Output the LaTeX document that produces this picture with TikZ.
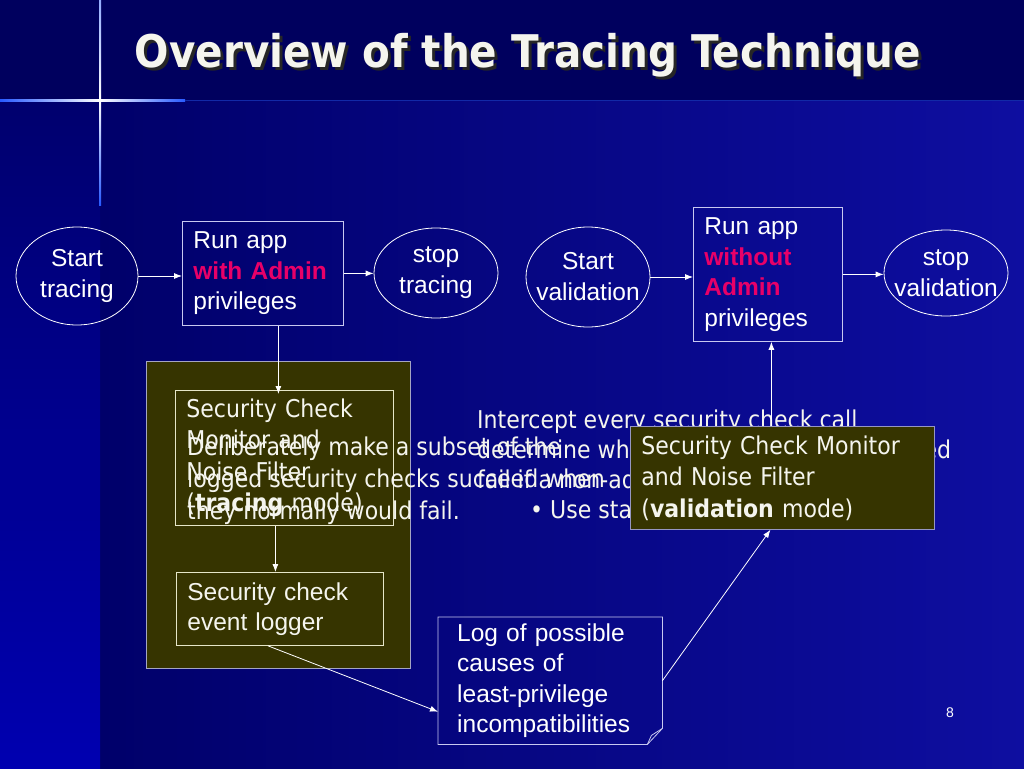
\documentclass[tikz,border=0pt]{standalone}
\usepackage{fontspec}
\setmainfont{Liberation Sans}
\newfontfamily\tahoma{DejaVu Sans Condensed}
\usetikzlibrary{arrows.meta}
\usetikzlibrary{shapes.geometric}

\definecolor{titleband}{RGB}{0,0,94}
\definecolor{mainleft}{RGB}{0,0,106}
\definecolor{mainright}{RGB}{14,14,160}
\definecolor{striptop}{RGB}{0,0,110}
\definecolor{stripbot}{RGB}{0,0,176}
\definecolor{lineblue}{RGB}{40,90,255}
\definecolor{olive}{RGB}{54,52,0}
\definecolor{oliveline}{RGB}{165,165,195}
\definecolor{creamline}{RGB}{230,230,200}
\definecolor{valline}{RGB}{150,150,195}
\definecolor{boxline}{RGB}{200,200,240}
\definecolor{admred}{RGB}{232,0,104}
\definecolor{softwhite}{RGB}{245,245,238}

\begin{document}
\begin{tikzpicture}[x=1pt, y=-1pt,
    oval/.style={ellipse, draw=white, line width=0.8pt, inner sep=0pt},
    ovaltext/.style={inner sep=0pt, text=white, align=center, font=\fontsize{24.5}{31}\selectfont},
    runbox/.style={draw=boxline, line width=0.8pt, inner xsep=11pt, inner ysep=0pt, anchor=north west, align=left, text=white, font=\fontsize{24.5}{30.5}\selectfont},
    olivebox/.style={draw=creamline, line width=0.8pt, inner xsep=11pt, inner ysep=0pt, anchor=north west, align=left, text=softwhite, font=\tahoma\fontsize{24.5}{31.5}\selectfont},
    flow/.style={draw=white, line width=0.8pt, -{Latex[length=8pt, width=6pt]}}]
      \useasboundingbox (0,0) rectangle (1024,768);

      % background
      \fill[titleband] (0,0) rectangle (1024,100);
      \shade[left color=mainleft, right color=mainright] (100,100) rectangle (1024,768);
      \shade[top color=striptop, bottom color=stripbot] (0,100) rectangle (100,768);
      \shade[left color=lineblue, right color=white] (0,99) rectangle (100,101);
      \shade[left color=white, right color=lineblue] (100,99) rectangle (185,101);
      \fill[lineblue!45!titleband] (185,99.5) rectangle (1024,100.5);
      \shade[top color=lineblue!50!white, bottom color=white] (99,0) rectangle (101,100);
      \shade[top color=white, bottom color=lineblue] (99,100) rectangle (101,205);

      \node[text=black!85, font=\tahoma\bfseries\fontsize{45}{52}\selectfont] (titleshadow) at (531,58) {Overview of the Tracing Technique};
      \node[text=softwhite, font=\tahoma\bfseries\fontsize{45}{52}\selectfont] (title) at (528,55) {Overview of the Tracing Technique};

      % tracing run
      \node[oval, minimum width=122pt, minimum height=98pt, label={[ovaltext]center:Start\\tracing}] (starttr) at (77,276) {};
      \node[runbox, text width=139pt, minimum height=104pt] (runadm) at (182,221) {Run app\\\textcolor{admred}{\bfseries with Admin}\\privileges};
      \node[oval, minimum width=124pt, minimum height=90pt, label={[ovaltext]center:stop\\tracing}] (stoptr) at (436,273) {};

      % validation run
      \node[oval, minimum width=124pt, minimum height=100pt, label={[ovaltext]center:Start\\validation}] (startval) at (588,277) {};
      \node[runbox, text width=127pt, minimum height=134pt] (runnoadm) at (693,207) {Run app\\\textcolor{admred}{\bfseries without}\\\textcolor{admred}{\bfseries Admin}\\privileges};
      \node[oval, minimum width=124pt, minimum height=86pt, label={[ovaltext]center:stop\\validation}] (stopval) at (946,273) {};

      % tracing area
      \draw[draw=oliveline, fill=olive, line width=1pt] (146,361) rectangle (410,668);
      \node[olivebox, text width=196pt, minimum height=135pt] (montr) at (175,390) {Security Check\\Monitor and\\Noise Filter\\(\textbf{tracing} mode)};
      \node[olivebox, font=\fontsize{24.5}{30}\selectfont, text width=185pt, minimum height=73pt] (logger) at (176,572) {Security check\\event logger};

      \node[anchor=north west, inner sep=0pt, align=left, text=softwhite, font=\tahoma\fontsize{24.5}{32}\selectfont] (deltxt) at (187,437) {Deliberately make a subset of the\\logged security checks succeed when\\they normally would fail.};
      \node[anchor=north west, inner sep=0pt, align=left, text=softwhite, font=\tahoma\fontsize{24.5}{30}\selectfont] (intxt) at (477,410) {Intercept every security check call\\determine whether this call would succeed\\fail if a non-admin ran it\\\hspace*{53pt}\textbullet\ Use stack traces};

      \node[olivebox, draw=valline, fill=olive, text width=282pt, minimum height=103pt] (valbox) at (630,426) {Security Check Monitor\\and Noise Filter\\(\textbf{validation} mode)};

      % log of causes
      \node[anchor=north west, inner xsep=19pt, inner ysep=0pt, text width=186pt, minimum height=127pt, align=left, text=white, font=\fontsize{24.5}{30.5}\selectfont] (logbox) at (438,617) {Log of possible\\causes of\\least-privilege\\incompatibilities};
      \draw[boxline, line width=0.8pt] (logbox.north west) -- (logbox.north east) -- ([yshift=16pt]logbox.south east) -- ([xshift=-15pt]logbox.south east) -- (logbox.south west) -- cycle;
      \draw[boxline, line width=0.8pt] ([xshift=-15pt]logbox.south east) -- ([xshift=-11pt, yshift=9pt]logbox.south east) -- ([yshift=16pt]logbox.south east);

      \node[text=white, font=\fontsize{14}{16}\selectfont] (pagenum) at (950,713) {8};

      \draw[flow] (starttr.east) -- (starttr.east -| runadm.west);
      \draw[flow] (runadm.east) -- (runadm.east -| stoptr.west);
      \draw[flow] (startval.east) -- (startval.east -| runnoadm.west);
      \draw[flow] (runnoadm.east) -- (runnoadm.east -| stopval.west);
      \draw[flow] ([xshift=15.5pt]runadm.south) -- ([xshift=15.5pt, yshift=-4pt]runadm.south |- montr.north);
      \draw[flow] ([xshift=-9pt]montr.south) -- ([xshift=-9pt]montr.south |- logger.north);
      \draw[flow] ([xshift=-12pt]logger.south) -- ([yshift=-31pt]logbox.west);
      \draw[flow] (logbox.east) -- ([xshift=-12pt]valbox.south);
      \draw[flow] ([xshift=3.5pt]runnoadm.south |- valbox.north) -- ([xshift=3.5pt]runnoadm.south);
\end{tikzpicture}
\end{document}
